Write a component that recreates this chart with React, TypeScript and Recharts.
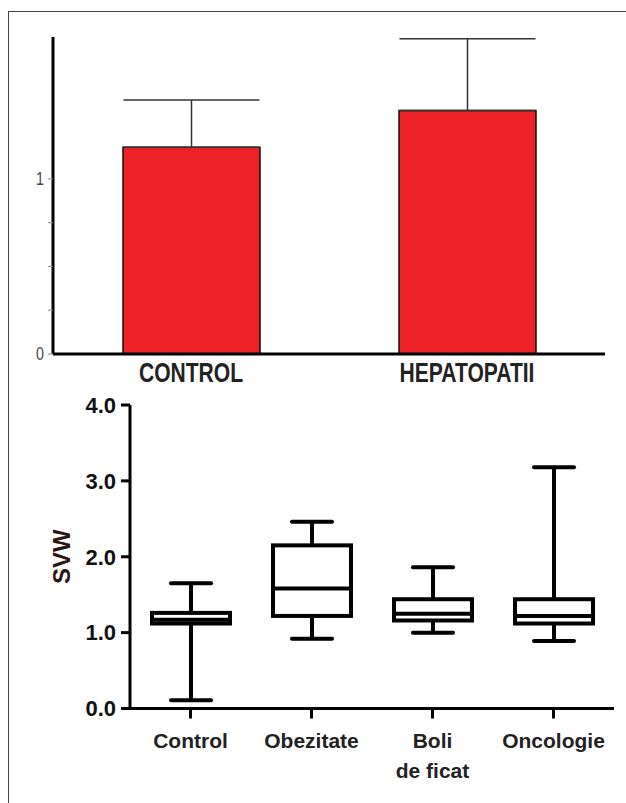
import React from 'react';
import { BarChart, Bar, XAxis, YAxis, ErrorBar } from 'recharts';

// top panel: mean + upper SD
const topCategories = ['CONTROL', 'HEPATOPATII'];
const topMeans = [1.18, 1.39];
const topErrors = [0.27, 0.41];
const topYTicks = [0, 0.25, 0.5, 0.75, 1];
const topMinorTicks = [2, 3, 4, 5, 6];

// bottom panel: box plot SVW
const boxCategories = ['Control', 'Obezitate', 'Boli\nde ficat', 'Oncologie'];
const boxMin = [0.11, 0.92, 1.0, 0.89];
const boxQ1 = [1.12, 1.22, 1.16, 1.12];
const boxMedian = [1.17, 1.58, 1.25, 1.22];
const boxQ3 = [1.26, 2.15, 1.44, 1.44];
const boxMax = [1.65, 2.46, 1.86, 3.18];
const boxYTicks = [0, 1, 2, 3, 4];

const SANS = "'Liberation Sans', Arial, sans-serif";

const topData = topCategories.map((name, i) => ({
  name,
  mean: topMeans[i],
  err: [0, topErrors[i]],
}));

const boxData = boxCategories.map((name, i) => ({
  name,
  range: [boxMin[i], boxMax[i]],
  min: boxMin[i],
  q1: boxQ1[i],
  median: boxMedian[i],
  q3: boxQ3[i],
  max: boxMax[i],
}));

// condensed bold labels (squeezed Liberation Sans)
// eslint-disable-next-line @typescript-eslint/no-explicit-any
function TopTick({ x, y, payload }: any) {
  return (
    <text
      transform={`translate(${x} ${y + 20}) scale(0.78 1)`}
      textAnchor="middle"
      fontFamily={SANS}
      fontWeight={700}
      fontSize={27}
      fill="#222"
    >
      {payload.value}
    </text>
  );
}

// eslint-disable-next-line @typescript-eslint/no-explicit-any
function TopYTick({ x, y, payload }: any) {
  const v = payload.value;
  if (v !== 0 && v !== 1) return null;
  return (
    <text
      transform={`translate(${x - 2} ${y}) scale(0.75 1)`}
      textAnchor="end"
      dominantBaseline="central"
      fontFamily={SANS}
      fontSize={19}
      fill="#444"
    >
      {String(v)}
    </text>
  );
}

// eslint-disable-next-line @typescript-eslint/no-explicit-any
function BoxTick({ x, y, payload }: any) {
  const lines = String(payload.value).split('\n');
  return (
    <text x={x} y={y + 27.5} textAnchor="middle" fontFamily={SANS} fontWeight={700} fontSize={21} fill="#222">
      {lines.map((l, i) => (
        <tspan key={i} x={x} dy={i === 0 ? 0 : 30}>
          {l}
        </tspan>
      ))}
    </text>
  );
}

// eslint-disable-next-line @typescript-eslint/no-explicit-any
function BoxShape(props: any) {
  const { x, y, width, height, payload } = props;
  const { min, q1, median, q3, max } = payload;
  // range bar spans [min, max]; map other stats on the same linear scale
  const toY = (v: number) => y + (height * (max - v)) / (max - min);
  const cx = x + width / 2;
  const cap = 20;
  return (
    <g stroke="#000" strokeWidth={4} fill="none">
      <line x1={cx} x2={cx} y1={toY(max)} y2={toY(q3)} />
      <line x1={cx} x2={cx} y1={toY(q1)} y2={toY(min)} />
      <line x1={cx - cap} x2={cx + cap} y1={toY(max)} y2={toY(max)} strokeLinecap="round" />
      <line x1={cx - cap} x2={cx + cap} y1={toY(min)} y2={toY(min)} strokeLinecap="round" />
      <rect x={x} y={toY(q3)} width={width} height={toY(q1) - toY(q3)} fill="#fff" />
      <line x1={x} x2={x + width} y1={toY(median)} y2={toY(median)} />
    </g>
  );
}

// eslint-disable-next-line @typescript-eslint/no-explicit-any
function SvwLabel({ viewBox }: any) {
  const cy = viewBox.y + viewBox.height / 2;
  return (
    <text
      x={61}
      y={cy}
      transform={`rotate(-90 61 ${cy})`}
      textAnchor="middle"
      dominantBaseline="central"
      fontFamily={SANS}
      fontWeight={700}
      fontSize={24}
      fill="#2a1414"
    >
      SVW
    </text>
  );
}

export default function App() {
  return (
    <div style={{ position: 'absolute', left: 0, top: 0, width: 626, height: 803, background: '#fff', overflow: 'hidden' }}>
      <div
        style={{
          position: 'absolute',
          left: 8,
          top: 11,
          width: 640,
          height: 820,
          borderLeft: '1.5px solid #444',
          borderTop: '1.5px solid #444',
        }}
      />

      <div style={{ position: 'absolute', left: 0, top: 0 }}>
        <BarChart width={626} height={400} data={topData} margin={{ top: 37, right: 21, left: 0, bottom: 0 }}>
          <XAxis
            xAxisId="minor"
            type="number"
            domain={[0, 8]}
            ticks={topMinorTicks}
            height={0}
            axisLine={false}
            tickLine={{ stroke: '#999', strokeWidth: 1 }}
            tickSize={7}
            tick={{ fontSize: 1, fill: 'none' }}
            tickFormatter={() => ''}
          />
          <XAxis
            dataKey="name"
            height={46}
            axisLine={{ stroke: '#000', strokeWidth: 3 }}
            tickLine={false}
            tick={<TopTick />}
            interval={0}
          />
          <YAxis
            width={53}
            domain={[0, 1.81]}
            ticks={topYTicks}
            axisLine={{ stroke: '#000', strokeWidth: 3 }}
            tickLine={{ stroke: '#888', strokeWidth: 1 }}
            tickSize={5}
            tick={<TopYTick />}
          />
          <Bar dataKey="mean" barSize={137} fill="#ec2227" stroke="#111" strokeWidth={1.5} isAnimationActive={false}>
            <ErrorBar dataKey="err" width={68} stroke="#333" strokeWidth={1.5} direction="y" />
          </Bar>
        </BarChart>
      </div>

      <div style={{ position: 'absolute', left: 0, top: 380 }}>
        <BarChart width={626} height={423} data={boxData} margin={{ top: 25, right: 12, left: 0, bottom: 0 }}>
          <XAxis
            dataKey="name"
            height={94.5}
            axisLine={{ stroke: '#000', strokeWidth: 3 }}
            tickLine={{ stroke: '#000', strokeWidth: 3 }}
            tickSize={10}
            tick={<BoxTick />}
            interval={0}
          />
          <YAxis
            width={130}
            domain={[0, 4]}
            ticks={boxYTicks}
            axisLine={{ stroke: '#000', strokeWidth: 3 }}
            tickLine={{ stroke: '#000', strokeWidth: 3 }}
            tickSize={9}
            tickMargin={5}
            tick={{ fill: '#111', fontSize: 22, fontWeight: 700, fontFamily: SANS }}
            tickFormatter={(v: number) => v.toFixed(1)}
            label={<SvwLabel />}
          />
          <Bar dataKey="range" barSize={78} shape={<BoxShape />} isAnimationActive={false} />
        </BarChart>
      </div>
    </div>
  );
}
